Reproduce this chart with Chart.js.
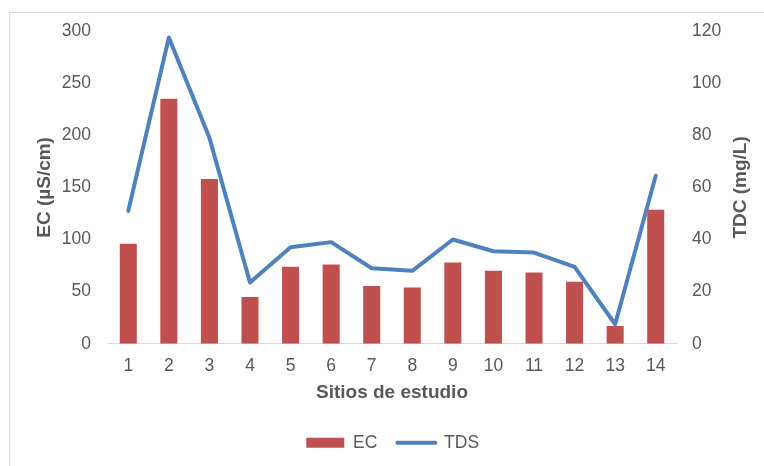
<!DOCTYPE html>
<html>
<head>
<meta charset="utf-8">
<script src="https://cdn.jsdelivr.net/npm/chart.js@4/dist/chart.umd.min.js"></script>
<style>
  html, body { margin: 0; padding: 0; background: #ffffff; }
  #wrap { position: relative; width: 764px; height: 466px; overflow: hidden; }
  #frame { position: absolute; left: 9px; top: 12px; width: 800px; height: 500px;
           border-left: 1px solid #d9d9d9; border-top: 1px solid #d9d9d9; box-sizing: border-box; }
  #c { position: absolute; left: 0; top: 0; }
</style>
</head>
<body>
<div id="wrap">
  <div id="frame"></div>
  <canvas id="c" width="764" height="466"></canvas>
</div>
<script>
// Sampling sites along the study area
const sites = ['1', '2', '3', '4', '5', '6', '7', '8', '9', '10', '11', '12', '13', '14'];
// Electrical conductivity, µS/cm
const ecValues = [96, 235, 158, 45, 74, 76, 55.5, 54, 78, 70, 68.5, 59.5, 17, 128.5];
// Total dissolved solids, mg/L
const tdsValues = [51, 117.5, 79, 23.5, 37, 39, 29, 28, 40, 35.5, 35, 29.5, 7.5, 64.5];
// Axis tick values
const ecTicks = [0, 50, 100, 150, 200, 250, 300];
const tdsTicks = [0, 20, 40, 60, 80, 100, 120];

const RED = '#C0504D';
const BLUE = '#4F81BD';
const TEXT = '#595959';
const FAMILY = '"Liberation Sans", Arial, sans-serif';
const TITLE_FONT = { family: FAMILY, size: 19, weight: 'bold' };

// Secondary-axis title, written bottom-to-top like the primary one
const rightTitle = {
  id: 'rightTitle',
  afterDraw(chart) {
    const s = chart.scales.y1;
    const area = chart.chartArea;
    const ctx = chart.ctx;
    ctx.save();
    ctx.translate(s.right - 15.4, (area.top + area.bottom) / 2);
    ctx.rotate(-Math.PI / 2);
    ctx.font = 'bold 19px ' + FAMILY;
    ctx.fillStyle = TEXT;
    ctx.textAlign = 'center';
    ctx.textBaseline = 'middle';
    ctx.fillText('TDC (mg/L)', 0, 0);
    ctx.restore();
  }
};

new Chart(document.getElementById('c'), {
  type: 'bar',
  data: {
    labels: sites,
    datasets: [
      {
        type: 'bar',
        label: 'EC',
        data: ecValues,
        yAxisID: 'y',
        backgroundColor: RED,
        borderWidth: 0,
        categoryPercentage: 1,
        barPercentage: 0.42,
        order: 1
      },
      {
        type: 'line',
        label: 'TDS',
        data: tdsValues,
        yAxisID: 'y1',
        borderColor: BLUE,
        backgroundColor: BLUE,
        borderWidth: 4,
        tension: 0,
        pointRadius: 0,
        borderJoinStyle: 'round',
        borderCapStyle: 'round',
        fill: false,
        order: 0
      }
    ]
  },
  plugins: [rightTitle],
  options: {
    responsive: false,
    animation: false,
    events: [],
    layout: { padding: { left: 29, right: 7.6, top: 31, bottom: 4.5 } },
    plugins: {
      tooltip: { enabled: false },
      legend: {
        position: 'bottom',
        title: { display: true, text: '', font: { size: 5.5, lineHeight: 1 }, padding: 0 },
        labels: {
          font: { family: FAMILY, size: 17.5 },
          color: TEXT,
          usePointStyle: true,
          pointStyleWidth: 38,
          boxWidth: 38,
          boxHeight: 10,
          padding: 20,
          sort: (a, b) => a.datasetIndex - b.datasetIndex,
          generateLabels: (chart) => chart.data.datasets.map((ds, i) => ({
            text: ds.label,
            datasetIndex: i,
            fillStyle: ds.type === 'bar' ? RED : BLUE,
            strokeStyle: ds.type === 'bar' ? RED : BLUE,
            lineWidth: ds.type === 'bar' ? 0 : 4,
            lineCap: 'round',
            pointStyle: ds.type === 'bar' ? 'rect' : 'line',
            fontColor: TEXT,
            hidden: false
          }))
        }
      }
    },
    scales: {
      x: {
        grid: { display: false, drawTicks: false },
        border: { display: true, color: '#d9d9d9', width: 1 },
        ticks: { font: { family: FAMILY, size: 17.5 }, color: TEXT, padding: 12, maxRotation: 0 },
        title: {
          display: true,
          text: 'Sitios de estudio',
          font: TITLE_FONT,
          color: TEXT,
          padding: { top: 4, bottom: 4 }
        },
        afterFit: (s) => { s.height = 64.7; }
      },
      y: {
        position: 'left',
        min: 0,
        max: 300,
        afterBuildTicks: (s) => { s.ticks = ecTicks.map(v => ({ value: v })); },
        grid: { display: false, drawTicks: false },
        border: { display: false },
        ticks: { font: { family: FAMILY, size: 17.5 }, color: TEXT, padding: 17 },
        title: {
          display: true,
          text: 'EC (µS/cm)',
          font: TITLE_FONT,
          color: TEXT,
          padding: { top: 4, bottom: 4 }
        },
        afterFit: (s) => { s.width = 79; }
      },
      y1: {
        position: 'right',
        min: 0,
        max: 120,
        afterBuildTicks: (s) => { s.ticks = tdsTicks.map(v => ({ value: v })); },
        grid: { display: false, drawTicks: false },
        border: { display: false },
        ticks: { font: { family: FAMILY, size: 17.5 }, color: TEXT, padding: 16 },
        title: { display: false },
        afterFit: (s) => { s.width = 80.4; }
      }
    }
  }
});
</script>
</body>
</html>
